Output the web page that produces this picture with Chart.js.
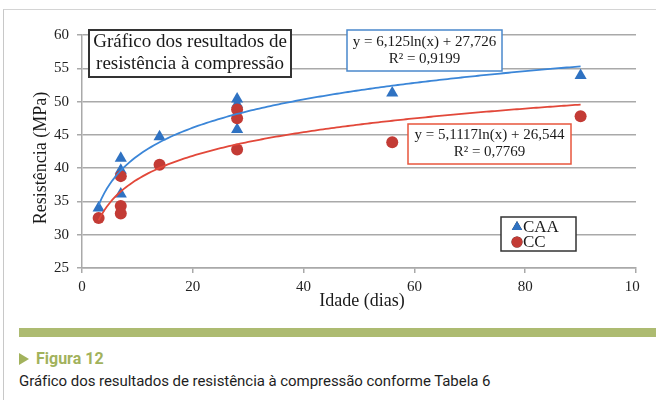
<!DOCTYPE html>
<html>
<head>
<meta charset="utf-8">
<script src="https://cdn.jsdelivr.net/npm/chart.js@4.4.0/dist/chart.umd.min.js"></script>
<style>
  html, body { margin: 0; padding: 0; background: #fff; }
  body { width: 656px; height: 400px; position: relative; overflow: hidden; }
  .frame { position: absolute; left: 3px; top: 9px; right: -5px; bottom: -5px;
           border-left: 1px solid #c8c8c8; border-top: 1px solid #d4d4d4; }
  .plot { position: absolute; left: 0; top: 0; width: 640px; height: 320px; overflow: hidden; }
  .bar { position: absolute; left: 19px; top: 328px; width: 640px; height: 9px; background: #adbb71; }
  .fig { position: absolute; left: 19px; top: 349px; font: bold 16px Roboto, sans-serif; color: #a2b25c; }
  .fig .tri { display: inline-block; width: 0; height: 0; border-left: 10px solid #a2b25c;
              border-top: 6px solid transparent; border-bottom: 6px solid transparent; margin-right: 7px; vertical-align: -1px; }
  .cap { position: absolute; left: 19px; top: 372px; font: 15px Roboto, sans-serif; color: #1e1e1e; white-space: nowrap; letter-spacing: -0.05px; }
</style>
</head>
<body>
<div class="frame"></div>
<div class="plot"><canvas id="chart" width="656" height="320"></canvas></div>
<div class="bar"></div>
<div class="fig"><span class="tri"></span>Figura 12</div>
<div class="cap">Gráfico dos resultados de resistência à compressão conforme Tabela 6</div>
<script>
// idade (dias) e resistência (MPa)
const caaDays = [3, 7, 7, 7, 14, 28, 28, 28, 56, 90];
const caaValues = [34.0, 41.5, 39.7, 36.1, 44.7, 50.4, 49.6, 45.8, 51.3, 53.9];
const ccDays = [3, 7, 7, 7, 14, 28, 28, 28, 56, 90];
const ccValues = [32.5, 38.8, 34.3, 33.2, 40.5, 48.8, 47.5, 42.8, 43.9, 47.8];

// linhas de tendência logarítmicas: y = a*ln(x) + b
const caaFit = [6.125, 27.726];
const ccFit = [5.1117, 26.544];
const caaR2 = '0,9199';
const ccR2 = '0,7769';

const xTicks = [0, 20, 40, 60, 80, 100];
const yTicks = [25, 30, 35, 40, 45, 50, 55, 60];
const seriesNames = ['CAA', 'CC'];
const chartTitle = ['Gráfico dos resultados de', 'resistência à compressão'];
const xTitle = 'Idade (dias)';
const yTitle = 'Resistência (MPa)';

const BLUE = '#2f72c2';
const RED = '#c33b35';
const SERIF = '"Liberation Serif", "Times New Roman", serif';
const GRID = '#a9a9a9';

function toPoints(xs, ys) {
    return xs.map((x, i) => ({ x: x, y: ys[i] }));
}

function fitCurve(fit, xs) {
    const start = Math.min(...xs);
    const end = Math.max(...xs);
    const pts = [];
    for (let x = start; x <= end + 1e-9; x += 0.5) {
        pts.push({ x: x, y: fit[0] * Math.log(x) + fit[1] });
    }
    return pts;
}

function fmt(n) {
    return String(n).replace('.', ',');
}

const caaEq = `y = ${fmt(caaFit[0])}ln(x) + ${fmt(caaFit[1])}`;
const ccEq = `y = ${fmt(ccFit[0])}ln(x) + ${fmt(ccFit[1])}`;

function textBox(ctx, x1, y1, x2, y2, lines, border, lw, font, lineGap) {
    ctx.save();
    ctx.fillStyle = '#fff';
    ctx.fillRect(x1, y1, x2 - x1, y2 - y1);
    ctx.strokeStyle = border;
    ctx.lineWidth = lw;
    ctx.strokeRect(x1, y1, x2 - x1, y2 - y1);
    ctx.fillStyle = '#1a1a1a';
    ctx.font = font;
    ctx.textAlign = 'center';
    ctx.textBaseline = 'middle';
    const cx = (x1 + x2) / 2;
    const cy = (y1 + y2) / 2;
    lines.forEach((t, i) => {
        ctx.fillText(t, cx, cy + (i - (lines.length - 1) / 2) * lineGap);
    });
    ctx.restore();
}

const overlayPlugin = {
    id: 'overlay',
    afterDraw(chart) {
        const ctx = chart.ctx;
        // titulo
        textBox(ctx, 89, 30, 291, 77, chartTitle, '#333', 2, '19px ' + SERIF, 22);
        // equações
        textBox(ctx, 347, 30, 502, 71, [caaEq, 'R² = ' + caaR2], '#4a88cc', 1.5, '15px ' + SERIF, 17);
        textBox(ctx, 408, 124, 571, 164, [ccEq, 'R² = ' + ccR2], '#e8563c', 1.5, '15px ' + SERIF, 17);

        // legenda
        ctx.save();
        ctx.fillStyle = '#fff';
        ctx.fillRect(501, 217, 75, 34);
        ctx.strokeStyle = '#333';
        ctx.lineWidth = 1.5;
        ctx.strokeRect(501, 217, 75, 34);
        ctx.font = '17px ' + SERIF;
        ctx.textBaseline = 'middle';
        ctx.fillStyle = '#1a1a1a';
        const styles = [['triangle', BLUE, 6], ['circle', RED, 5.5]];
        seriesNames.forEach((name, i) => {
            const y = 227 + i * 15;
            Chart.helpers.drawPoint(ctx, { pointStyle: styles[i][0], radius: styles[i][2], borderWidth: 0 }, 517, y);
            ctx.fillStyle = styles[i][1];
            ctx.fill();
            ctx.fillStyle = '#1a1a1a';
            ctx.fillText(name, 523, y + 1);
        });
        ctx.restore();

        // títulos dos eixos
        ctx.save();
        ctx.fillStyle = '#1a1a1a';
        ctx.font = '18px ' + SERIF;
        ctx.textAlign = 'center';
        ctx.textBaseline = 'middle';
        ctx.fillText(xTitle, 362, 301);
        ctx.translate(41, 158);
        ctx.rotate(-Math.PI / 2);
        ctx.fillText(yTitle, 0, 0);
        ctx.restore();
    }
};

const ctx = document.getElementById('chart').getContext('2d');
new Chart(ctx, {
    type: 'scatter',
    data: {
        datasets: [
            {
                label: seriesNames[0] + ' tendência',
                type: 'line',
                data: fitCurve(caaFit, caaDays),
                borderColor: '#3b86d8',
                borderWidth: 1.8,
                pointRadius: 0,
                fill: false,
                tension: 0
            },
            {
                label: seriesNames[1] + ' tendência',
                type: 'line',
                data: fitCurve(ccFit, ccDays),
                borderColor: '#e2483a',
                borderWidth: 1.8,
                pointRadius: 0,
                fill: false,
                tension: 0
            },
            {
                label: seriesNames[1],
                data: toPoints(ccDays, ccValues),
                pointStyle: 'circle',
                pointRadius: 6,
                backgroundColor: RED,
                borderWidth: 0
            },
            {
                label: seriesNames[0],
                data: toPoints(caaDays, caaValues),
                pointStyle: 'triangle',
                pointRadius: 7,
                backgroundColor: BLUE,
                borderWidth: 0
            }
        ]
    },
    options: {
        responsive: false,
        animation: false,
        events: [],
        layout: { padding: { left: 0, top: 35, right: 20, bottom: 0 } },
        plugins: {
            legend: { display: false },
            tooltip: { enabled: false }
        },
        scales: {
            x: {
                type: 'linear',
                min: xTicks[0],
                max: xTicks[xTicks.length - 1],
                afterBuildTicks: scale => { scale.ticks = xTicks.map(v => ({ value: v })); },
                afterFit: scale => { scale.height = 52; },
                ticks: { padding: 5, color: '#222', font: { family: SERIF, size: 15 } },
                grid: { drawOnChartArea: false, drawTicks: true, tickLength: 5, color: GRID, lineWidth: 1.5 },
                border: { color: GRID, width: 1.5 }
            },
            y: {
                min: yTicks[0],
                max: yTicks[yTicks.length - 1],
                afterBuildTicks: scale => { scale.ticks = yTicks.map(v => ({ value: v })); },
                afterFit: scale => { scale.width = 82; },
                ticks: { padding: 8, color: '#222', font: { family: SERIF, size: 15 } },
                grid: { color: GRID, lineWidth: 1.5, tickLength: 5 },
                border: { color: GRID, width: 1.5 }
            }
        }
    },
    plugins: [overlayPlugin]
});
</script>
</body>
</html>
